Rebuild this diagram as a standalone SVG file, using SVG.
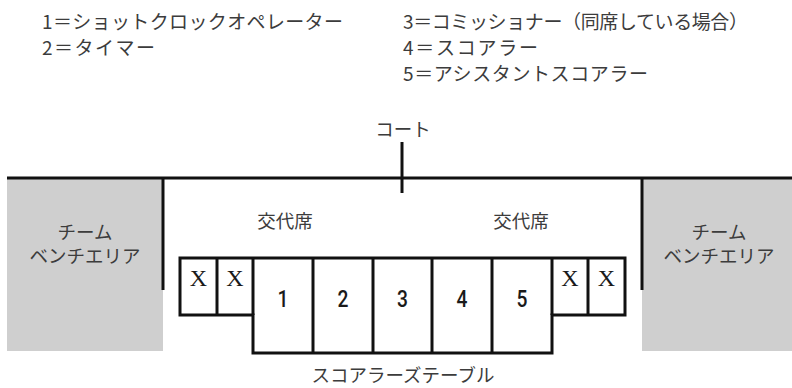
<svg xmlns="http://www.w3.org/2000/svg" width="792" height="388" viewBox="0 0 792 388">
<style>
  .jp { font-family: "Noto Sans CJK JP", "Noto Sans", sans-serif; font-size: 18.5px; fill: #3c3c3c; }
  .hd { font-size: 19px; }
  .mid { text-anchor: middle; }
  .num { font-family: Roboto, "Liberation Sans", sans-serif; font-weight: 500; font-size: 24px; fill: #1a1a1a; text-anchor: middle; }
  .x { font-family: "Liberation Serif", serif; font-size: 24px; fill: #1a1a1a; text-anchor: middle; }
  .ln { stroke: #111; stroke-width: 3; fill: none; }
  .area { fill: #cfcfcf; }
  .cell { fill: #fff; stroke: #111; stroke-width: 3; stroke-linejoin: miter; }
</style>

<g id="legend">
  <text class="jp hd" x="42" y="29" textLength="301" lengthAdjust="spacing">1＝ショットクロックオペレーター</text>
  <text class="jp hd" x="42" y="55" textLength="113" lengthAdjust="spacing">2＝タイマー</text>
  <text class="jp hd" x="403" y="29" textLength="345" lengthAdjust="spacing">3＝コミッショナー（同席している場合）</text>
  <text class="jp hd" x="403" y="55" textLength="135" lengthAdjust="spacing">4＝スコアラー</text>
  <text class="jp hd" x="403" y="81" textLength="245" lengthAdjust="spacing">5＝アシスタントスコアラー</text>
</g>

<g id="bench-left">
  <rect class="area" x="7" y="178" width="156" height="173"/>
  <text class="jp mid" x="85" y="239">チーム</text>
  <text class="jp mid" x="85" y="263">ベンチエリア</text>
</g>

<g id="bench-right">
  <rect class="area" x="642" y="178" width="150" height="173"/>
  <text class="jp mid" x="719" y="239">チーム</text>
  <text class="jp mid" x="719" y="263">ベンチエリア</text>
</g>

<g id="court">
  <line class="ln" x1="7" y1="178" x2="792" y2="178"/>
  <line class="ln" x1="163" y1="178" x2="163" y2="290"/>
  <line class="ln" x1="642" y1="178" x2="642" y2="290"/>
  <line class="ln" x1="402" y1="142" x2="402" y2="193"/>
  <text class="jp mid" x="403" y="136">コート</text>
</g>

<g id="sub-left">
  <text class="jp mid" x="285" y="228">交代席</text>
</g>
<g id="sub-right">
  <text class="jp mid" x="521" y="228">交代席</text>
</g>

<g id="table">
  <path class="cell" d="M180,258 H625 V315 H552 V353 H253 V315 H180 Z"/>
  <line class="ln" x1="217" y1="258" x2="217" y2="315"/>
  <line class="ln" x1="253" y1="258" x2="253" y2="315"/>
  <line class="ln" x1="313" y1="258" x2="313" y2="353"/>
  <line class="ln" x1="373" y1="258" x2="373" y2="353"/>
  <line class="ln" x1="432" y1="258" x2="432" y2="353"/>
  <line class="ln" x1="492" y1="258" x2="492" y2="353"/>
  <line class="ln" x1="552" y1="258" x2="552" y2="315"/>
  <line class="ln" x1="588" y1="258" x2="588" y2="315"/>
  <text class="x" x="198.5" y="286">X</text>
  <text class="x" x="235" y="286">X</text>
  <text class="x" x="570" y="286">X</text>
  <text class="x" x="606.5" y="286">X</text>
  <text class="num" transform="translate(283,307) scale(0.8,1)">1</text>
  <text class="num" transform="translate(343,307) scale(0.8,1)">2</text>
  <text class="num" transform="translate(402.5,307) scale(0.8,1)">3</text>
  <text class="num" transform="translate(462,307) scale(0.8,1)">4</text>
  <text class="num" transform="translate(522,307) scale(0.8,1)">5</text>
  <text class="jp mid" x="403" y="382" font-size="18.5">スコアラーズテーブル</text>
</g>
</svg>
